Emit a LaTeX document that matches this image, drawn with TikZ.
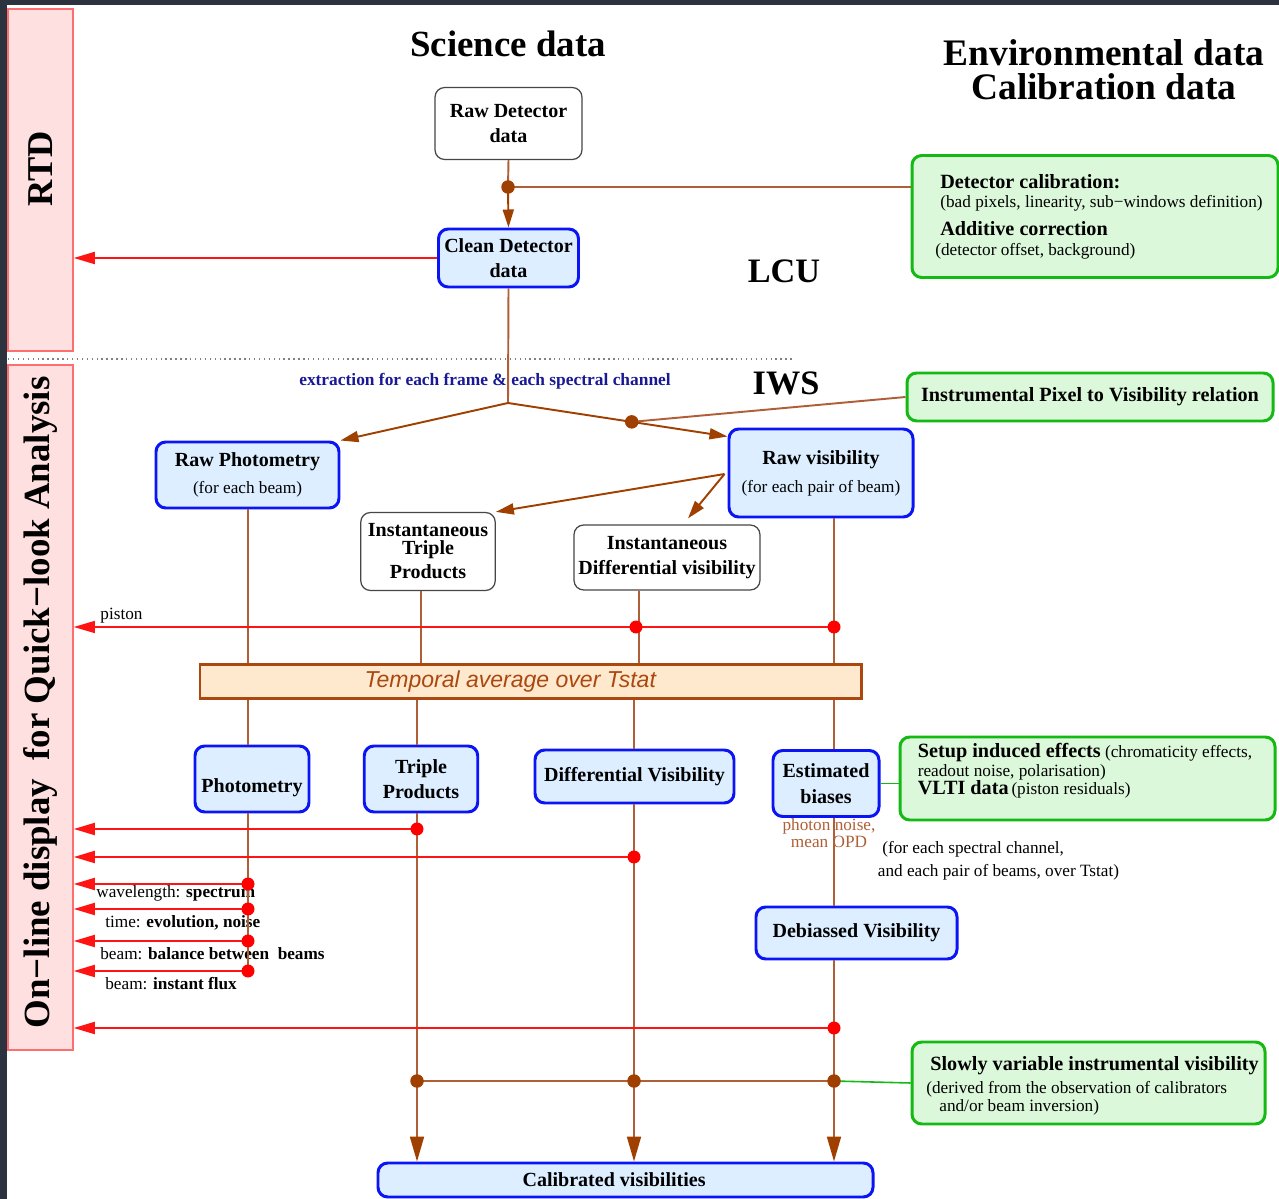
\documentclass[tikz,border=0pt]{standalone}
\usepackage{fontspec}
\setmainfont{Liberation Serif}
\newfontfamily\hvfont{Liberation Sans}
\usetikzlibrary{arrows.meta,calc}
\definecolor{bblue}{RGB}{10,20,245}
\definecolor{bfill}{RGB}{220,238,255}
\definecolor{ggreen}{RGB}{20,185,20}
\definecolor{gfill}{RGB}{220,248,218}
\definecolor{pfill}{RGB}{255,224,224}
\definecolor{pborder}{RGB}{255,110,110}
\definecolor{brl}{RGB}{175,95,55}
\definecolor{brd}{RGB}{160,64,0}
\definecolor{tfill}{RGB}{255,233,206}
\definecolor{tborder}{RGB}{170,72,15}
\definecolor{navy}{RGB}{25,25,150}
\definecolor{gborder}{RGB}{70,70,70}
\definecolor{framec}{RGB}{45,51,62}
\definecolor{rl}{RGB}{255,20,20}
\newcommand\fb{\fontsize{11.4}{14.2}\selectfont\bfseries}
\newcommand\fbb{\fontsize{11.5}{14}\selectfont\bfseries}
\newcommand\fr{\fontsize{9.8}{12}\selectfont\mdseries}
\newcommand\fbig{\fontsize{19.5}{19.4}\selectfont\bfseries}
\begin{document}
\begin{tikzpicture}[x=0.02cm,y=-0.02cm,
  txt/.style={inner sep=0pt},
  box/.style={rectangle,rounded corners=5.5pt,inner sep=0pt,align=center},
  bluebox/.style={box,draw=bblue,fill=bfill,line width=1.7pt,font=\fb},
  graybox/.style={box,draw=gborder,fill=white,line width=0.7pt,font=\fb},
  greenbox/.style={box,draw=ggreen,fill=gfill,line width=1.7pt},
  pinkbox/.style={rectangle,draw=pborder,fill=pfill,line width=0.9pt,inner sep=0pt},
  bline/.style={draw=brl,line width=1.1pt},
  barrow/.style={draw=brd,line width=1.1pt,-{Triangle[length=0.36cm,width=0.22cm]}},
  bigarrow/.style={draw=brl,line width=1.1pt,-{Triangle[length=0.5cm,width=0.28cm,color=brd]}},
  rarrow/.style={draw=rl,line width=1.1pt,-{Triangle[length=0.42cm,width=0.24cm]}},
  gline/.style={draw=ggreen,line width=0.9pt},
  bdot/.style={circle,fill=brd,inner sep=0pt,minimum size=0.27cm},
  rdot/.style={circle,fill=red,inner sep=0pt,minimum size=0.26cm},
  bigtitle/.style={txt,font=\fbig}
]
% background and frame
\fill[white] (0,0) rectangle (1279,1199);
\fill[framec] (0,0) rectangle (1279,5);
\fill[framec] (0,0) rectangle (7,1199);
\path[use as bounding box] (0,0) rectangle (1279,1199);

% side panels
\node[pinkbox,rotate=90,minimum width={342*0.02cm},minimum height={65*0.02cm},font=\fontsize{20.7}{24}\selectfont\bfseries] (rtd) at (40.5,180) {\hspace*{12.5pt}RTD};
\node[pinkbox,rotate=90,minimum width={685*0.02cm},minimum height={65*0.02cm},font=\fontsize{21}{24}\selectfont\bfseries] (qla) at (40.5,707.5) {\hspace*{5.7pt}On−line display~ for Quick−look Analysis};
\draw[gray,dotted,line width=0.8pt] (8,359) -- (795,359);

% titles
\node[txt,font=\fontsize{21}{25}\selectfont\bfseries] (sci) at (508,44) {Science data};
\node[txt,align=center,font=\fontsize{21.3}{19.4}\selectfont\bfseries] (env) at (1104,70) {Environmental data\\Calibration data};
\node[bigtitle] (lcu) at (784,271) {LCU};
\node[bigtitle] (iws) at (786,383) {IWS};

% boxes
\node[graybox,minimum width={147*0.02cm},minimum height={72*0.02cm}] (rawdet) at (508.5,123.5) {Raw Detector\\data};
\node[bluebox,minimum width={140*0.02cm},minimum height={58*0.02cm}] (clean) at (508.5,258) {Clean Detector\\data};
\node[greenbox,minimum width={366*0.02cm},minimum height={122*0.02cm}] (detcal) at (1095,216.5) {};
\node[txt,anchor=west,font=\fbb] (dc1) at (940,182) {Detector calibration:};
\node[txt,anchor=west,font=\fr] (dc2) at (940,203) {(bad pixels, linearity, sub−windows definition)};
\node[txt,anchor=west,font=\fbb] (dc3) at (940,229) {Additive correction};
\node[txt,anchor=west,font=\fr] (dc4) at (935,251) {(detector offset, background)};

\node[greenbox,minimum width={366*0.02cm},minimum height={48*0.02cm},font=\fbb] (instpix) at (1090,397) {Instrumental Pixel to Visibility relation};

\node[bluebox,minimum width={183*0.02cm},minimum height={66*0.02cm}] (rawphot) at (247.5,475) {Raw Photometry\\[1.2pt]{\fr (for each beam)}};
\node[bluebox,minimum width={184*0.02cm},minimum height={88*0.02cm}] (rawvis) at (821,473) {Raw visibility\\[1.7pt]{\fr (for each pair of beam)}};
\node[graybox,minimum width={134.5*0.02cm},minimum height={78*0.02cm},font=\fontsize{11.4}{10.2}\selectfont\bfseries] (itp) at (428,551.5) {Instantaneous\\Triple\\[2.3pt]Products};
\node[graybox,minimum width={186*0.02cm},minimum height={65*0.02cm}] (idv) at (667,557.5) {Instantaneous\\Differential visibility};

\node[rectangle,draw=tborder,fill=tfill,line width=1.7pt,inner sep=0pt,minimum width={661*0.02cm},minimum height={34*0.02cm},font=\fontsize{13.1}{15}\selectfont\hvfont\itshape,text=tborder] (temporal) at (530.5,681.5) {Temporal average over Tstat\hspace*{23pt}};

\node[bluebox,minimum width={114*0.02cm},minimum height={66*0.02cm},text height=15.4pt,text depth=0pt] (phot) at (252,779) {Photometry};
\node[bluebox,minimum width={113.5*0.02cm},minimum height={66*0.02cm}] (tp) at (421,779) {Triple\\Products};
\node[bluebox,minimum width={199*0.02cm},minimum height={53*0.02cm}] (dv) at (634.5,776.5) {Differential Visibility};
\node[bluebox,minimum width={106*0.02cm},minimum height={66*0.02cm}] (eb) at (826,783.5) {Estimated\\[0.6pt]biases};
\node[greenbox,minimum width={375*0.02cm},minimum height={83*0.02cm}] (setup) at (1087.5,778.5) {};
\node[txt,anchor=west,font=\fr] (su1) at (917.5,753) {{\fbb Setup induced effects} (chromaticity effects,};
\node[txt,anchor=west,font=\fr] (su2) at (917.5,772) {readout noise, polarisation)};
\node[txt,anchor=west,font=\fr] (su3) at (917.5,789) {{\fbb VLTI data}\,(piston residuals)};

\node[bluebox,minimum width={201*0.02cm},minimum height={52*0.02cm}] (deb) at (856.5,933) {Debiassed Visibility};
\node[greenbox,minimum width={353*0.02cm},minimum height={82*0.02cm}] (slow) at (1088.5,1083) {};
\node[txt,anchor=west,font=\fbb] (sl1) at (930,1066) {Slowly variable instrumental visibility};
\node[txt,anchor=west,font=\fr] (sl2) at (926,1089) {(derived from the observation of calibrators};
\node[txt,anchor=west,font=\fr] (sl3) at (939,1107) {and/or beam inversion)};
\node[bluebox,minimum width={495*0.02cm},minimum height={34*0.02cm}] (calib) at (625.5,1180) {Calibrated visibilities\hspace*{13pt}};

% free texts
\node[txt,font=\fontsize{9.9}{12}\selectfont\bfseries,text=navy] (extr) at (485,381.5) {extraction for each frame \& each spectral channel};
\node[txt,font=\fr] (piston) at (121.5,616) {piston};
\node[txt,font=\fontsize{9.8}{9.7}\selectfont,text=brl,align=center] (pnoise) at (829,833.5) {photon noise,\\mean OPD};
\node[txt,anchor=west,font=\fr] (fe1) at (882,849) {(for each spectral channel,};
\node[txt,anchor=west,font=\fr] (fe2) at (877.5,872) {and each pair of beams, over Tstat)};
\node[txt,anchor=west,font=\fr] (wl1) at (96,893) {wavelength: \textbf{spectrum}};
\node[txt,anchor=west,font=\fr] (wl2) at (105,923) {time: \textbf{evolution, noise}};
\node[txt,anchor=west,font=\fr] (wl3) at (100,954) {beam: \textbf{balance between~ beams}};
\node[txt,anchor=west,font=\fr] (wl4) at (105,984) {beam: \textbf{instant flux}};

% coordinates
\coordinate (xA) at (248,0);
\coordinate (xB1) at (421,0);
\coordinate (xB2) at (417,0);
\coordinate (xC1) at (639,0);
\coordinate (xC2) at (634,0);
\coordinate (xD) at (834,0);
\coordinate (d1) at (508,187);
\coordinate (split) at (508,403);
\coordinate (rvin) at ($(rawvis.north west)+(0,9)$);
\coordinate (d2) at ($(split)!0.5636!(rvin)$);
\coordinate (rvout) at ($(rawvis.west)+(-3,1)$);
\coordinate (idvin) at ($(idv.north)+(21,-6)$);
\coordinate (p1) at (636,627);
\coordinate (p2) at (834,627);
\coordinate (r1) at (417,829);
\coordinate (r2) at (634,857);
\coordinate (pd1) at (248,884);
\coordinate (pd2) at (248,909);
\coordinate (pd3) at (248,941);
\coordinate (pd4) at (248,971);
\coordinate (r3) at (834,1028);
\coordinate (b1) at (417,1081);
\coordinate (b2) at (634,1081);
\coordinate (b3) at (834,1081);

% brown connectors
\draw[bline] (rawdet.south) -- (d1);
\draw[barrow] (d1) -- (clean.north);
\draw[bline] (d1) -- (d1 -| detcal.west);
\draw[bline] (clean.south) -- (split);
\draw[barrow] (split) -- (rawphot.north east);
\draw[barrow] (split) -- (rvin);
\draw[bline] (d2) -- (instpix.west);
\draw[barrow] (rvout) -- (itp.north east);
\draw[barrow] (rvout) -- (idvin);

\draw[bline] (rawphot.south -| xA) -- (temporal.north -| xA);
\draw[bline] (itp.south -| xB1) -- (temporal.north -| xB1);
\draw[bline] (idv.south -| xC1) -- (temporal.north -| xC1);
\draw[bline] (rawvis.south -| xD) -- (temporal.north -| xD);
\draw[bline] (temporal.south -| xA) -- (phot.north -| xA);
\draw[bline] (temporal.south -| xB2) -- (tp.north -| xB2);
\draw[bline] (temporal.south -| xC2) -- (dv.north -| xC2);
\draw[bline] (temporal.south -| xD) -- (eb.north -| xD);
\draw[bline] (phot.south -| xA) -- (pd4);
\draw[bigarrow] (tp.south -| xB2) -- (calib.north -| xB2);
\draw[bigarrow] (dv.south -| xC2) -- (calib.north -| xC2);
\draw[bline] (eb.south -| xD) -- (deb.north -| xD);
\draw[bigarrow] (deb.south -| xD) -- (calib.north -| xD);
\draw[draw=brl,line width=1.5pt] (b1) -- (b3);

% green connectors
\draw[gline] (eb.east) -- (eb.east -| setup.west);
\draw[gline] (b3) -- (slow.west);

% red connectors
\draw[rarrow] (clean.west) -- (clean.west -| rtd.south);
\draw[rarrow,line width=0.8pt] (p2) -- (p2 -| qla.south);
\draw[rarrow] (r1) -- (r1 -| qla.south);
\draw[rarrow] (r2) -- (r2 -| qla.south);
\draw[rarrow] (pd1) -- (pd1 -| qla.south);
\draw[rarrow] (pd2) -- (pd2 -| qla.south);
\draw[rarrow] (pd3) -- (pd3 -| qla.south);
\draw[rarrow] (pd4) -- (pd4 -| qla.south);
\draw[rarrow] (r3) -- (r3 -| qla.south);

% dots
\node[bdot] (d1n) at (d1) {};
\node[bdot] (d2n) at (d2) {};
\node[bdot] (b1n) at (b1) {};
\node[bdot] (b2n) at (b2) {};
\node[bdot] (b3n) at (b3) {};
\node[rdot] (p1n) at (p1) {};
\node[rdot] (p2n) at (p2) {};
\node[rdot] (r1n) at (r1) {};
\node[rdot] (r2n) at (r2) {};
\node[rdot] (pd1n) at (pd1) {};
\node[rdot] (pd2n) at (pd2) {};
\node[rdot] (pd3n) at (pd3) {};
\node[rdot] (pd4n) at (pd4) {};
\node[rdot] (r3n) at (r3) {};
\end{tikzpicture}
\end{document}
